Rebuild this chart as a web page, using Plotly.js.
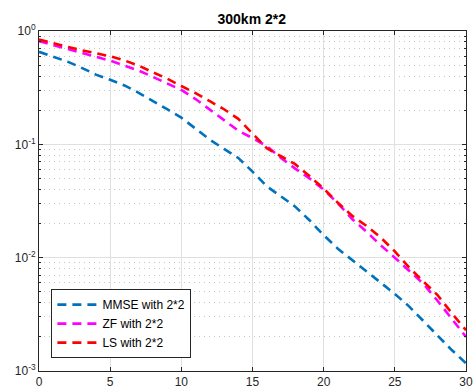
<!DOCTYPE html>
<html>
<head>
<meta charset="utf-8">
<script src="https://cdn.plot.ly/plotly-3.0.1.min.js"></script>
<style>html,body{margin:0;padding:0;background:#fff;}#chart{width:475px;height:387px;}</style>
</head>
<body>
<div id="chart"></div>
<script>
const snr = [0,1,2,3,4,5,6,7,8,9,10,11,12,13,14,15,16,17,18,19,20,21,22,23,24,25,26,27,28,29,30];
const mmse = [0.655,0.596,0.537,0.473,0.412,0.372,0.331,0.285,0.243,0.204,0.172,0.138,0.110,0.0912,0.0759,0.0575,0.0427,0.0347,0.0282,0.0214,0.0158,0.0120,0.00955,0.00767,0.00610,0.00479,0.00372,0.00275,0.00204,0.00153,0.00117];
const zf = [0.813,0.750,0.700,0.646,0.596,0.547,0.495,0.447,0.394,0.347,0.302,0.251,0.202,0.162,0.132,0.1135,0.0966,0.0759,0.0610,0.0501,0.0398,0.0302,0.0219,0.0170,0.0129,0.0100,0.00767,0.00589,0.00417,0.00288,0.00200];
const ls = [0.841,0.776,0.724,0.676,0.635,0.598,0.550,0.495,0.432,0.380,0.327,0.283,0.240,0.204,0.168,0.126,0.0925,0.0785,0.0668,0.0525,0.0407,0.0305,0.0234,0.0191,0.0151,0.01135,0.00822,0.00617,0.00468,0.00324,0.00229];
const seriesNames = ["MMSE with 2*2","ZF with 2*2","LS with 2*2"];
const xTicks = [0,5,10,15,20,25,30];
const yTickVals = [0.001,0.01,0.1,1];
const yTickText = ["10<sup>-3</sup>","10<sup>-2</sup>","10<sup>-1</sup>","10<sup>0</sup>"];
const titleText = "300km 2*2";

const colors = ["#0072BD","#FF00FF","#FF0000"];
const ys = [mmse, zf, ls];
const traces = ys.map((y,i)=>({
  x: snr, y: y, type:'scatter', mode:'lines', name: seriesNames[i],
  line:{color:colors[i], width:2.6, dash:'9px,6px'}
}));

const axisCol = '#262626';
const layout = {
  width:475, height:387,
  margin:{l:39,r:9,t:31,b:16,pad:0},
  paper_bgcolor:'#fff', plot_bgcolor:'#fff',
  font:{family:'Liberation Sans, Arial, sans-serif', size:12, color:axisCol},
  title:{text:'<b>'+titleText+'</b>', font:{size:14, color:'#000'}, x:0.53, xanchor:'center', y:0.95, yanchor:'middle'},
  showlegend:true,
  legend:{x:0.029, y:0.038, xanchor:'left', yanchor:'bottom', bgcolor:'#fff', bordercolor:axisCol, borderwidth:1, font:{size:12,color:'#000'}, tracegroupgap:0, itemwidth:40},
  xaxis:{range:[0,30], tickvals:xTicks, ticktext:xTicks.map(String), ticks:'inside', ticklen:4, tickcolor:axisCol,
    showline:true, linecolor:axisCol, linewidth:1, mirror:'ticks', showgrid:true, gridcolor:'#e0e0e0', gridwidth:1, zeroline:false,
    tickfont:{size:12,color:axisCol}},
  yaxis:{type:'log', range:[-3,0], tickvals:yTickVals, ticktext:yTickText, ticks:'inside', ticklen:4, tickcolor:axisCol,
    showline:true, linecolor:axisCol, linewidth:1, mirror:'ticks', showgrid:true, gridcolor:'#e0e0e0', gridwidth:1, zeroline:false,
    tickfont:{size:12,color:axisCol},
    minor:{dtick:'D1', ticks:'inside', ticklen:2, tickcolor:axisCol, showgrid:true, gridcolor:'#c4c4c4', griddash:'1px,4px', gridwidth:1}}
};
Plotly.newPlot('chart', traces, layout, {staticPlot:true, displayModeBar:false});
</script>
</body>
</html>
